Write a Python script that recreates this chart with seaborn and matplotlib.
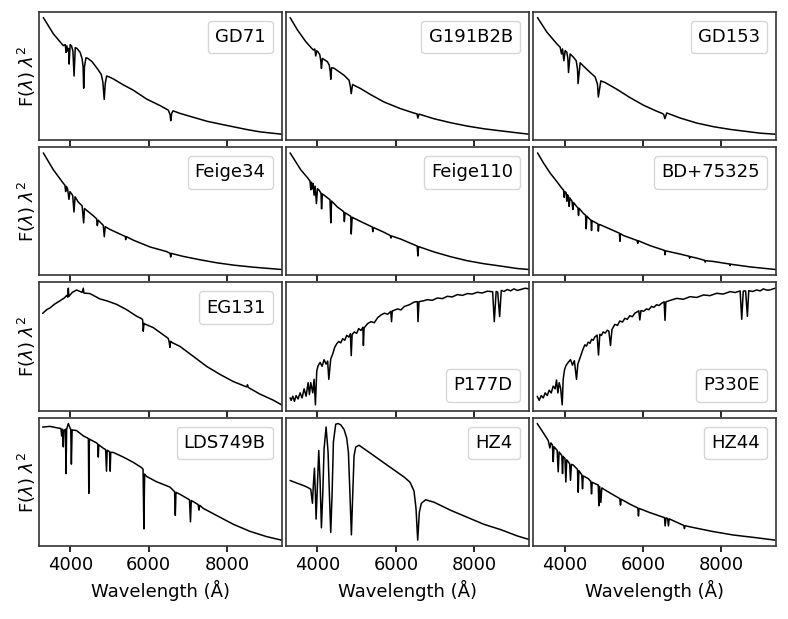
import matplotlib
matplotlib.use('Agg')
import matplotlib.pyplot as plt
import seaborn as sns

# spectra: wavelength (A) and flux (arbitrary units)
gd71_wave = [3310, 3566, 3820, 3870, 3890, 3910, 3935, 3955, 3968, 3995,
             4030, 4065, 4095, 4125, 4170, 4250, 4300, 4325, 4340, 4360,
             4398, 4440, 4550, 4700, 4790, 4830, 4864, 4890, 4926, 5000,
             5100, 5350, 5600, 5950, 6290, 6500, 6545, 6562, 6585, 6620,
             6800, 7140, 7480, 7820, 8160, 8500, 8840, 9390]
gd71_flux = [95.8, 83.3, 74.2, 75.0, 69.0, 74.0, 70.0, 72.0, 60.0, 75.0,
             74.0, 70.0, 50.8, 72.7, 72.0, 69.0, 64.0, 58.0, 41.4, 58.0,
             64.8, 64.5, 62.0, 56.0, 52.0, 46.0, 32.8, 45.0, 50.8, 50.0,
             48.5, 44.0, 40.0, 33.0, 28.0, 24.5, 21.0, 16.4, 22.0, 24.0,
             22.0, 19.0, 16.0, 13.8, 11.7, 9.6, 7.8, 6.0]

g191_wave = [3302, 3489, 3702, 3850, 3897, 3931, 3957, 3982, 4016, 4060,
             4085, 4102, 4125, 4254, 4300, 4325, 4340, 4360, 4420, 4679,
             4806, 4840, 4862, 4895, 5104, 5359, 5699, 6124, 6464, 6540,
             6562, 6590, 6974, 7399, 7824, 8249, 8674, 9099, 9397]
g191_flux = [95.8, 86.2, 77.1, 72.0, 70.6, 71.4, 66.0, 70.0, 69.0, 67.0,
             62.0, 56.3, 64.1, 61.5, 59.0, 54.0, 47.9, 56.8, 56.5, 51.0,
             47.1, 42.0, 36.7, 43.8, 40.6, 35.9, 30.2, 25.0, 21.6, 21.0,
             17.7, 20.8, 17.2, 14.1, 11.5, 9.4, 7.8, 6.25, 5.2]

gd153_wave = [3310, 3548, 3803, 3888, 3922, 3948, 3982, 4016, 4058, 4085,
              4101, 4143, 4228, 4297, 4330, 4345, 4398, 4483, 4653, 4780,
              4840, 4862, 4925, 5036, 5334, 5674, 6014, 6354, 6481, 6530,
              6560, 6608, 6949, 7374, 7799, 8224, 8648, 8988, 9371]
gd153_flux = [95.8, 84.6, 75.5, 72.9, 67.7, 71.6, 62.5, 70.3, 69.0, 64.0,
              53.4, 67.7, 65.1, 62.5, 56.0, 44.8, 60.9, 58.3, 53.4, 50.0,
              44.3, 34.4, 46.9, 45.6, 40.4, 33.9, 28.1, 23.4, 21.9, 21.0,
              17.7, 22.1, 18.2, 14.3, 11.5, 9.4, 7.8, 6.5, 5.7]

feige34_wave = [3310, 3566, 3820, 3860, 3880, 3900, 3930, 3965, 3990, 4060,
                4092, 4120, 4200, 4300, 4339, 4360, 4415, 4600, 4670, 4688,
                4710, 4840, 4866, 4890, 5000, 5266, 5400, 5412, 5430, 5606,
                6030, 6456, 6545, 6560, 6575, 6880, 7306, 7730, 8156, 8666,
                9390]
feige34_flux = [95.8, 82.8, 72.4, 71.0, 66.0, 70.0, 68.0, 60.0, 66.0, 63.0,
                50.3, 62.0, 58.0, 55.0, 41.9, 53.0, 51.6, 47.0, 45.0, 39.8,
                44.0, 40.0, 31.3, 39.0, 37.0, 33.3, 31.5, 29.0, 31.3, 28.6,
                23.4, 19.8, 18.5, 15.6, 18.4, 16.1, 13.5, 11.2, 9.4, 7.8,
                6.0]

feige110_wave = [3302, 3574, 3760, 3787, 3810, 3829, 3850, 3872, 3890, 3914,
                 3940, 3974, 4000, 4042, 4090, 4105, 4125, 4169, 4320, 4340,
                 4360, 4509, 4670, 4686, 4705, 4850, 4862, 4885, 5104, 5400,
                 5412, 5430, 5699, 5860, 5876, 5890, 6124, 6545, 6562, 6580,
                 6974, 7399, 7824, 8249, 8674, 9099, 9397]
feige110_flux = [96.1, 83.1, 76.5, 75.3, 74.5, 67.7, 73.5, 68.5, 72.5, 63.5,
                 70.5, 57.0, 68.5, 67.4, 65.0, 53.0, 64.5, 63.5, 60.0, 42.2,
                 59.0, 54.4, 50.8, 43.2, 50.0, 47.2, 33.6, 46.5, 43.2, 39.0,
                 35.4, 38.6, 34.9, 32.4, 30.5, 32.1, 29.7, 24.3, 16.7, 23.9,
                 19.8, 16.1, 13.0, 10.7, 8.9, 7.0, 6.25]

bd75_wave = [3310, 3463, 3633, 3803, 3931, 3975, 3990, 4005, 4040, 4058,
             4075, 4100, 4118, 4135, 4190, 4211, 4230, 4313, 4340, 4356,
             4372, 4483, 4535, 4552, 4568, 4653, 4675, 4688, 4702, 4850,
             4862, 4878, 4908, 5164, 5400, 5412, 5425, 5504, 5844, 5870,
             5880, 6184, 6524, 6550, 6563, 6578, 6949, 7180, 7190, 7200,
             7374, 7580, 7590, 7600, 7799, 8215, 8225, 8235, 8734, 9380]
bd75_flux = [95.8, 88.0, 80.2, 73.7, 68.5, 67.0, 61.5, 66.0, 65.0, 58.5,
             63.5, 62.0, 54.5, 61.0, 58.5, 52.0, 57.5, 54.2, 53.5, 47.5,
             53.0, 49.0, 47.8, 37.2, 47.0, 44.3, 44.0, 35.9, 43.5, 41.0,
             35.4, 40.5, 40.4, 37.0, 33.8, 27.6, 33.5, 32.0, 28.3, 26.0,
             28.0, 24.2, 20.8, 20.5, 17.2, 20.2, 17.7, 16.0, 14.5, 15.8,
             14.6, 12.8, 11.5, 12.6, 12.0, 10.0, 8.8, 9.9, 7.8, 5.8]

eg131_wave = [3294, 3400, 3480, 3600, 3736, 3850, 3906, 3935, 3948, 3960,
              4050, 4160, 4300, 4330, 4345, 4500, 4756, 4926, 5180, 5436,
              5690, 5818, 5845, 5860, 5880, 5903, 6116, 6370, 6498, 6525,
              6540, 6560, 6608, 6796, 7136, 7476, 7816, 8156, 8496, 8520,
              8540, 8836, 9176, 9388]
eg131_flux = [76.3, 79.0, 80.2, 83.0, 85.4, 87.5, 89.3, 88.0, 94.5, 88.5,
              91.5, 93.2, 91.5, 94.5, 91.0, 90.6, 86.7, 85.4, 82.8, 78.9,
              74.2, 72.4, 71.5, 63.3, 69.0, 68.5, 65.9, 60.7, 58.1, 55.0,
              51.6, 56.0, 54.9, 52.3, 45.1, 37.8, 32.0, 26.8, 22.9, 24.5,
              22.5, 17.7, 13.3, 9.9]

p177d_wave = [3302, 3328, 3370, 3413, 3455, 3506, 3557, 3608, 3659, 3710,
              3761, 3795, 3829, 3880, 3914, 3948, 3982, 4016, 4067, 4118,
              4169, 4220, 4260, 4290, 4339, 4390, 4441, 4492, 4543, 4594,
              4645, 4696, 4747, 4800, 4840, 4862, 4885, 4943, 5000, 5053,
              5110, 5160, 5172, 5190, 5283, 5368, 5450, 5538, 5623, 5708,
              5790, 5870, 5890, 5910, 6048, 6130, 6218, 6345, 6472, 6549,
              6566, 6590, 6700, 6804, 6930, 7059, 7190, 7314, 7440, 7569,
              7700, 7824, 7950, 8079, 8200, 8334, 8470, 8512, 8560, 8600,
              8649, 8690, 8760, 8844, 8930, 9014, 9100, 9184, 9300, 9397]
p177d_flux = [10.2, 8.3, 11.5, 7.6, 12.0, 9.4, 14.1, 10.2, 17.2, 11.5,
              21.9, 12.8, 21.9, 14.1, 24.5, 4.9, 31.0, 34.9, 37.5, 34.5,
              39.6, 36.2, 38.5, 24.5, 40.1, 44.0, 49.2, 51.8, 53.6, 52.5,
              55.7, 54.5, 58.3, 57.0, 59.5, 42.7, 59.0, 60.9, 59.8, 63.5,
              62.0, 64.5, 50.5, 64.0, 67.4, 68.8, 68.0, 71.9, 74.0, 75.3,
              74.5, 76.6, 68.8, 77.0, 78.6, 77.8, 80.5, 81.8, 83.9, 84.2,
              68.8, 84.2, 84.8, 85.7, 85.2, 87.0, 86.5, 88.3, 87.8, 89.6,
              89.0, 90.4, 90.0, 91.4, 90.8, 92.2, 91.8, 68.8, 92.0, 91.5,
              72.7, 92.8, 92.0, 93.5, 92.5, 94.0, 92.8, 93.5, 94.5, 94.0]

p330e_wave = [3302, 3353, 3404, 3455, 3506, 3557, 3608, 3659, 3710, 3760,
              3795, 3829, 3863, 3900, 3940, 3965, 3999, 4033, 4093, 4152,
              4203, 4250, 4305, 4339, 4390, 4458, 4518, 4560, 4603, 4650,
              4688, 4730, 4773, 4830, 4866, 4900, 4940, 4985, 5040, 5087,
              5130, 5172, 5210, 5283, 5350, 5410, 5480, 5538, 5600, 5665,
              5730, 5793, 5895, 5920, 5950, 6020, 6090, 6150, 6218, 6280,
              6345, 6410, 6472, 6541, 6563, 6585, 6700, 6864, 7030, 7204,
              7370, 7544, 7710, 7884, 8050, 8224, 8350, 8480, 8521, 8560,
              8620, 8665, 8700, 8800, 8904, 8990, 9074, 9160, 9244, 9371]
p330e_flux = [11.5, 8.3, 12.0, 10.2, 14.1, 12.0, 16.1, 14.0, 19.3, 17.2,
              24.0, 14.1, 21.9, 17.5, 4.9, 24.5, 31.8, 34.9, 37.5, 39.6,
              35.4, 38.8, 24.5, 36.2, 40.6, 46.6, 51.0, 50.0, 53.1, 52.2,
              55.2, 54.5, 57.0, 58.5, 43.2, 59.1, 58.2, 60.9, 60.0, 62.2,
              61.5, 50.5, 62.8, 66.7, 66.0, 69.3, 68.5, 71.4, 70.6, 73.4,
              72.6, 75.3, 77.1, 70.1, 77.3, 76.8, 78.6, 78.0, 80.5, 79.8,
              81.8, 81.2, 82.8, 84.1, 69.8, 84.0, 85.2, 86.7, 86.0, 88.0,
              87.4, 89.3, 88.8, 90.6, 90.0, 91.9, 91.2, 92.4, 70.6, 92.3,
              92.4, 72.9, 92.6, 92.0, 93.2, 92.4, 94.0, 93.0, 93.2, 94.5]

lds749b_wave = [3294, 3480, 3650, 3760, 3778, 3800, 3820, 3835, 3875, 3889,
                3905, 3948, 3990, 4010, 4026, 4045, 4160, 4330, 4440, 4460,
                4471, 4485, 4500, 4670, 4700, 4713, 4725, 4840, 4900, 4922,
                4940, 5000, 5016, 5030, 5096, 5350, 5606, 5818, 5855, 5876,
                5895, 5946, 6200, 6540, 6660, 6678, 6695, 6796, 7040, 7065,
                7085, 7260, 7281, 7300, 7390, 7730, 8156, 8580, 9006, 9388]
lds749b_flux = [90.6, 91.1, 90.1, 89.5, 84.0, 89.0, 76.0, 88.0, 89.0, 56.3,
                89.0, 93.2, 90.0, 89.0, 63.3, 88.5, 88.0, 84.1, 82.5, 82.0,
                41.7, 81.8, 81.5, 78.9, 78.0, 68.5, 77.5, 75.0, 74.0, 58.1,
                73.5, 72.5, 58.1, 72.0, 71.9, 68.5, 64.6, 60.7, 59.5, 15.6,
                56.0, 54.2, 50.3, 46.4, 43.0, 25.5, 42.5, 41.1, 37.0, 20.8,
                36.5, 33.5, 29.4, 33.0, 30.7, 25.5, 19.0, 13.8, 9.9, 7.3]

hz4_wave = [3302, 3489, 3659, 3787, 3829, 3872, 3897, 3923, 3948, 3965,
            3990, 4033, 4067, 4101, 4135, 4169, 4220, 4271, 4305, 4339,
            4373, 4407, 4466, 4526, 4594, 4679, 4747, 4790, 4823, 4866,
            4900, 4934, 4976, 5061, 5189, 5444, 5699, 5954, 6209, 6362,
            6464, 6515, 6558, 6600, 6651, 6762, 6974, 7399, 7824, 8249,
            8674, 9099, 9397]
hz4_flux = [53.1, 51.0, 49.2, 47.4, 46.6, 36.2, 50.5, 62.2, 42.7, 24.5,
            42.7, 75.3, 53.1, 18.0, 42.7, 76.6, 92.7, 74.0, 42.7, 14.6,
            42.7, 81.8, 94.8, 95.3, 94.3, 90.9, 84.4, 74.0, 47.9, 12.8,
            42.7, 71.4, 77.9, 79.2, 76.6, 71.4, 66.1, 60.9, 55.7, 51.8,
            45.3, 32.3, 8.9, 29.7, 36.2, 38.8, 37.0, 31.0, 25.8, 20.6,
            16.7, 12.0, 9.4]

hz44_wave = [3302, 3455, 3583, 3625, 3650, 3690, 3710, 3730, 3810, 3838,
             3860, 3930, 3948, 3965, 4010, 4033, 4055, 4130, 4152, 4175,
             4220, 4330, 4348, 4365, 4440, 4458, 4475, 4603, 4670, 4688,
             4705, 4840, 4860, 4875, 4895, 4926, 4950, 4985, 5155, 5410,
             5427, 5445, 5665, 5870, 5886, 5900, 6175, 6472, 6550, 6566,
             6590, 6630, 6651, 6670, 6949, 7045, 7059, 7075, 7374, 7799,
             8310, 8904, 9371]
hz44_flux = [95.3, 88.3, 82.3, 76.6, 80.5, 78.8, 66.1, 77.5, 74.8, 58.3,
             73.5, 70.8, 57.0, 70.1, 68.5, 50.5, 67.5, 64.5, 51.8, 64.0,
             63.5, 60.2, 42.7, 59.2, 56.0, 45.3, 55.2, 53.1, 51.0, 41.4,
             50.3, 48.4, 48.2, 32.3, 47.2, 34.9, 46.0, 45.3, 42.2, 37.8,
             32.8, 37.3, 33.6, 30.6, 24.5, 30.3, 27.1, 24.0, 23.2, 16.9,
             23.0, 22.5, 16.9, 22.3, 18.5, 17.2, 14.8, 17.0, 15.1, 12.5,
             9.9, 7.8, 6.0]

names = ['GD71', 'G191B2B', 'GD153', 'Feige34', 'Feige110', 'BD+75325',
         'EG131', 'P177D', 'P330E', 'LDS749B', 'HZ4', 'HZ44']
waves = [gd71_wave, g191_wave, gd153_wave, feige34_wave, feige110_wave, bd75_wave,
         eg131_wave, p177d_wave, p330e_wave, lds749b_wave, hz4_wave, hz44_wave]
fluxes = [gd71_flux, g191_flux, gd153_flux, feige34_flux, feige110_flux, bd75_flux,
          eg131_flux, p177d_flux, p330e_flux, lds749b_flux, hz4_flux, hz44_flux]
legend_loc = {'P177D': 'lower right', 'P330E': 'lower right'}

sns.set_theme(style='ticks', rc={'axes.edgecolor': '.2', 'axes.linewidth': 1.2,
                                 'xtick.major.size': 4, 'xtick.major.width': 1.2,
                                 'xtick.color': 'black', 'text.color': 'black',
                                 'axes.labelcolor': 'black', 'xtick.labelsize': 13,
                                 'axes.labelsize': 13, 'legend.fontsize': 13})

fig, axes = plt.subplots(4, 3, figsize=(7.88, 6.19), dpi=100, sharex=True)
fig.subplots_adjust(left=0.0495, right=0.985, top=0.981, bottom=0.118,
                    wspace=0.017, hspace=0.055)

for ax, name, wave, flux in zip(axes.flat, names, waves, fluxes):
    sns.lineplot(x=wave, y=flux, ax=ax, color='black', linewidth=1.1,
                 label=name, estimator=None)
    ax.legend(handlelength=0, handletextpad=0, loc=legend_loc.get(name, 'upper right'))
    ax.set_yticks([])
    ax.set_xlim(3200, 9400)
    ax.set_xticks([4000, 6000, 8000])

for ax in axes[:, 0]:
    ax.set_ylabel(r'F($\lambda$) $\lambda^2$', labelpad=1)
for ax in axes[-1]:
    ax.set_xlabel('Wavelength (Å)')

fig.savefig('out.png', dpi=100)
